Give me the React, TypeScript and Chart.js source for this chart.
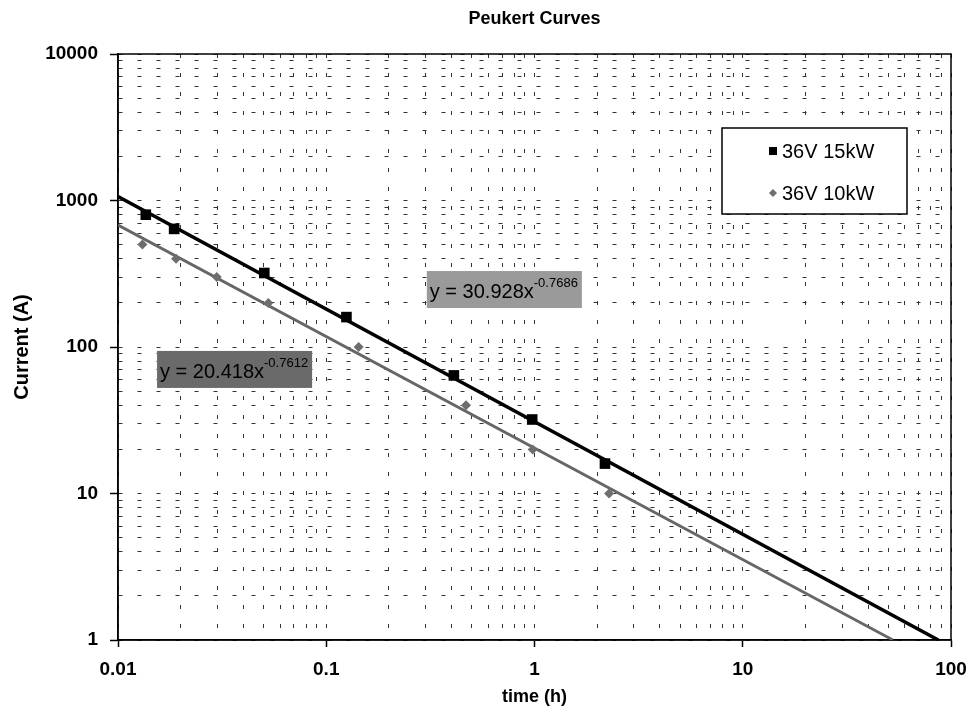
import React, { useEffect, useRef } from "react";
import { Chart, registerables } from "chart.js";

Chart.register(...registerables);

// ---------- data ----------
const chartTitle = "Peukert Curves";
const xAxisTitle = "time (h)";
const yAxisTitle = "Current (A)";

const series15Label = "36V 15kW";
const series10Label = "36V 10kW";

const time15 = [0.0136, 0.0186, 0.0504, 0.125, 0.41, 0.975, 2.18];
const current15 = [800, 640, 320, 160, 64, 32, 16];

const time10 = [0.0131, 0.019, 0.0298, 0.0527, 0.143, 0.469, 0.98, 2.28];
const current10 = [500, 400, 300, 200, 100, 40, 20, 10];

// power-law trendline end points (y = 30.928x^-0.7686 and y = 20.418x^-0.7612)
const trendTime15 = [0.01, 86.9];
const trendCurrent15 = [1065, 1];
const trendTime10 = [0.01, 52.6];
const trendCurrent10 = [680, 1];

const eq15Base = "y = 30.928x";
const eq15Exp = "-0.7686";
const eq15Anchor = [0.304, 330];
const eq10Base = "y = 20.418x";
const eq10Exp = "-0.7612";
const eq10Anchor = [0.0154, 94];

const xMajorTicks = [0.01, 0.1, 1, 10, 100];
const xTickLabels = ["0.01", "0.1", "1", "10", "100"];
const yMajorTicks = [1, 10, 100, 1000, 10000];
const yTickLabels = ["1", "10", "100", "1000", "10000"];
const minorMultipliers = [1, 2, 3, 4, 5, 6, 7, 8, 9];

const FONT = "'Liberation Sans', Arial, Helvetica, sans-serif";

function buildLogTicks(majors: number[]) {
  const out: number[] = [];
  for (let i = 0; i < majors.length - 1; i++) {
    for (const m of minorMultipliers) out.push(+(majors[i] * m).toPrecision(6));
  }
  out.push(majors[majors.length - 1]);
  return out;
}
function majorIndex(majors: number[], v: number) {
  return majors.findIndex((m) => Math.abs(m - v) / m < 1e-6);
}

export default function App() {
  const ref = useRef<HTMLCanvasElement | null>(null);

  useEffect(() => {
    document.body.style.margin = "0";
    const canvas = ref.current!;
    const xTicks = buildLogTicks(xMajorTicks);
    const yTicks = buildLogTicks(yMajorTicks);

    const framePlugin = {
      id: "frame",
      beforeDatasetsDraw(chart: any) {
        const { ctx, chartArea: a } = chart;
        ctx.save();
        ctx.strokeStyle = "#000";
        ctx.lineWidth = 1.5;
        ctx.strokeRect(a.left, a.top, a.right - a.left, a.bottom - a.top);
        ctx.restore();
      },
    };

    const drawEq = (chart: any, base: string, exp: string, anchor: number[], fill: string) => {
      const { ctx } = chart;
      const x0 = chart.scales.x.getPixelForValue(anchor[0]);
      const y0 = chart.scales.y.getPixelForValue(anchor[1]);
      ctx.save();
      ctx.font = `20px ${FONT}`;
      const wb = ctx.measureText(base).width;
      ctx.font = `13px ${FONT}`;
      const we = ctx.measureText(exp).width;
      const w = wb + we + 7;
      const h = 37;
      ctx.fillStyle = fill;
      ctx.fillRect(x0, y0, w, h);
      ctx.fillStyle = "#000";
      ctx.textBaseline = "alphabetic";
      ctx.textAlign = "left";
      ctx.font = `20px ${FONT}`;
      ctx.fillText(base, x0 + 3, y0 + 27);
      ctx.font = `13px ${FONT}`;
      ctx.fillText(exp, x0 + 3 + wb, y0 + 16);
      ctx.restore();
    };

    const annotationPlugin = {
      id: "equations",
      afterDatasetsDraw(chart: any) {
        drawEq(chart, eq15Base, eq15Exp, eq15Anchor, "#9a9a9a");
        drawEq(chart, eq10Base, eq10Exp, eq10Anchor, "#6a6a6a");
      },
    };

    const legendPlugin = {
      id: "boxLegend",
      afterDraw(chart: any) {
        const { ctx, chartArea: a } = chart;
        const right = a.right - 44;
        const w = 185;
        const left = right - w;
        const top = a.top + 74;
        const h = 86;
        ctx.save();
        ctx.fillStyle = "#fff";
        ctx.fillRect(left, top, w, h);
        ctx.strokeStyle = "#000";
        ctx.lineWidth = 1.5;
        ctx.strokeRect(left, top, w, h);
        const ds = chart.data.datasets;
        const rows = [top + 23, top + 65];
        ctx.font = `20px ${FONT}`;
        ctx.textBaseline = "middle";
        ctx.textAlign = "left";
        for (let i = 0; i < 2; i++) {
          const cy = rows[i];
          const mx = left + 51;
          ctx.fillStyle = ds[i].backgroundColor;
          if (i === 0) {
            ctx.fillRect(mx - 4, cy - 4, 8, 8);
          } else {
            ctx.beginPath();
            ctx.moveTo(mx - 4, cy);
            ctx.lineTo(mx, cy - 4);
            ctx.lineTo(mx + 4, cy);
            ctx.lineTo(mx, cy + 4);
            ctx.closePath();
            ctx.fill();
          }
          ctx.fillStyle = "#000";
          ctx.fillText(ds[i].label, left + 60, cy + 1);
        }
        ctx.restore();
      },
    };

    const tickFont = { family: FONT, size: 19, weight: "bold" as const };

    const chart = new Chart(canvas, {
      type: "scatter",
      data: {
        datasets: [
          {
            label: series15Label,
            data: time15.map((x, i) => ({ x, y: current15[i] })),
            pointStyle: "rect",
            pointRadius: 7.5,
            backgroundColor: "#000",
            borderColor: "#000",
            borderWidth: 0,
            showLine: false,
          },
          {
            label: series10Label,
            data: time10.map((x, i) => ({ x, y: current10[i] })),
            pointStyle: "rectRot",
            pointRadius: 5,
            backgroundColor: "#6e6e6e",
            borderColor: "#6e6e6e",
            borderWidth: 0,
            showLine: false,
          },
          {
            label: "trend15",
            data: trendTime15.map((x, i) => ({ x, y: trendCurrent15[i] })),
            showLine: true,
            borderColor: "#000",
            borderWidth: 3.5,
            pointRadius: 0,
          },
          {
            label: "trend10",
            data: trendTime10.map((x, i) => ({ x, y: trendCurrent10[i] })),
            showLine: true,
            borderColor: "#666",
            borderWidth: 2.8,
            pointRadius: 0,
          },
        ],
      },
      options: {
        responsive: false,
        animation: false,
        layout: { padding: { left: 0, right: 20, top: 0, bottom: 0 } },
        plugins: {
          legend: { display: false },
          tooltip: { enabled: false },
          title: {
            display: true,
            text: chartTitle,
            fullSize: false,
            color: "#000",
            font: { family: FONT, size: 18, weight: "bold" },
            padding: { top: 8, bottom: 24.4 },
          },
        },
        scales: {
          x: {
            type: "logarithmic",
            min: 0.01,
            max: 100,
            afterBuildTicks: (s: any) => {
              s.ticks = xTicks.map((v) => ({ value: v, major: majorIndex(xMajorTicks, v) >= 0 }));
            },
            afterFit: (s: any) => {
              s.height = 68;
              s.paddingLeft = 0;
              s.paddingRight = 0;
            },
            ticks: {
              autoSkip: false,
              maxRotation: 0,
              color: "#000",
              font: tickFont,
              padding: 11,
              callback: (v: any) => {
                const i = majorIndex(xMajorTicks, Number(v));
                return i >= 0 ? xTickLabels[i] : "";
              },
            },
            grid: {
              color: "#333",
              lineWidth: 1,
              tickLength: 7,
              tickWidth: 1.5,
              tickColor: (c: any) =>
                c.tick && majorIndex(xMajorTicks, c.tick.value) >= 0 ? "#000" : "rgba(0,0,0,0)",
            },
            border: { display: true, color: "#000", width: 1.5, dash: [4, 15] },
            title: {
              display: true,
              text: xAxisTitle,
              color: "#000",
              font: { family: FONT, size: 18, weight: "bold" },
              padding: { top: 0, bottom: 0 },
            },
          },
          y: {
            type: "logarithmic",
            min: 1,
            max: 10000,
            afterBuildTicks: (s: any) => {
              s.ticks = yTicks.map((v) => ({ value: v, major: majorIndex(yMajorTicks, v) >= 0 }));
            },
            afterFit: (s: any) => {
              s.width = 118;
              s.paddingTop = 0;
              s.paddingBottom = 0;
            },
            ticks: {
              autoSkip: false,
              color: "#000",
              font: tickFont,
              padding: 12,
              callback: (v: any) => {
                const i = majorIndex(yMajorTicks, Number(v));
                return i >= 0 ? yTickLabels[i] : "";
              },
            },
            grid: {
              color: "#333",
              lineWidth: 1,
              tickLength: 8,
              tickWidth: 1.5,
              tickColor: (c: any) =>
                c.tick && majorIndex(yMajorTicks, c.tick.value) >= 0 ? "#000" : "rgba(0,0,0,0)",
            },
            border: { display: true, color: "#000", width: 1.5, dash: [4, 15] },
            title: {
              display: true,
              text: yAxisTitle,
              color: "#000",
              font: { family: FONT, size: 20, weight: "bold" },
              padding: { top: 10, bottom: 0 },
            },
          },
        },
      },
      plugins: [framePlugin, annotationPlugin, legendPlugin],
    } as any);

    return () => chart.destroy();
  }, []);

  return (
    <div style={{ position: "absolute", left: 0, top: 0, width: 971, height: 708 }}>
      <canvas ref={ref} width={971} height={708} style={{ display: "block" }} />
    </div>
  );
}
